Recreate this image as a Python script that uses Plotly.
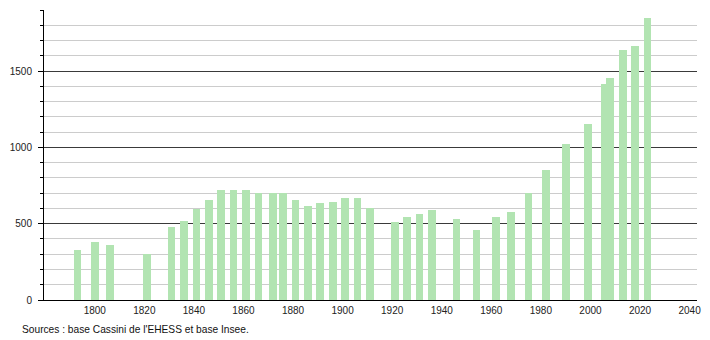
import plotly.graph_objects as go

years = [1793, 1800, 1806, 1821, 1831, 1836, 1841, 1846, 1851, 1856, 1861, 1866,
         1872, 1876, 1881, 1886, 1891, 1896, 1901, 1906, 1911, 1921, 1926, 1931,
         1936, 1946, 1954, 1962, 1968, 1975, 1982, 1990, 1999, 2006, 2008, 2013,
         2018, 2023]
population = [330, 377, 363, 304, 476, 515, 599, 654, 720, 720, 718, 700,
              700, 700, 654, 617, 634, 641, 667, 667, 605, 514, 544, 566,
              592, 533, 460, 544, 579, 704, 849, 1020, 1151, 1414, 1454, 1638,
              1664, 1849]
x_ticks = list(range(1800, 2041, 20))
y_major = [0, 500, 1000, 1500]
source_text = "Sources : base Cassini de l'EHESS et base Insee."

fig = go.Figure()
fig.add_trace(go.Bar(
    x=years, y=population, width=3.1,
    marker=dict(color="#b2e4b2", line=dict(width=0)),
    hoverinfo="x+y",
))

fig.update_layout(
    width=710, height=340,
    margin=dict(l=44, r=9, t=10, b=40),
    paper_bgcolor="white", plot_bgcolor="white",
    font=dict(family="Liberation Sans, Arial, sans-serif", size=10, color="#222"),
    showlegend=False,
    bargap=0,
    xaxis=dict(
        range=[1779.5, 2043], tickvals=x_ticks, ticktext=[str(v) for v in x_ticks],
        showgrid=False, zeroline=False, showline=True, linecolor="black", linewidth=1,
        ticks="", ticklabelstandoff=1,
    ),
    yaxis=dict(
        range=[0, 1900], tickvals=y_major, ticktext=[str(v) for v in y_major],
        showgrid=True, gridcolor="#3a3a3a", gridwidth=1,
        zeroline=False, showline=True, linecolor="black", linewidth=1,
        ticks="outside", ticklen=5, tickcolor="black", ticklabelstandoff=4,
        minor=dict(dtick=100, showgrid=True, gridcolor="#cccccc", gridwidth=1,
                   ticks="outside", ticklen=3, tickcolor="black"),
    ),
    annotations=[dict(
        text=source_text, xref="paper", yref="paper",
        x=-0.0375, y=-0.1034, xanchor="left", yanchor="middle",
        showarrow=False, font=dict(size=10.2, color="#111"),
    )],
)

fig.write_html("out.html")
